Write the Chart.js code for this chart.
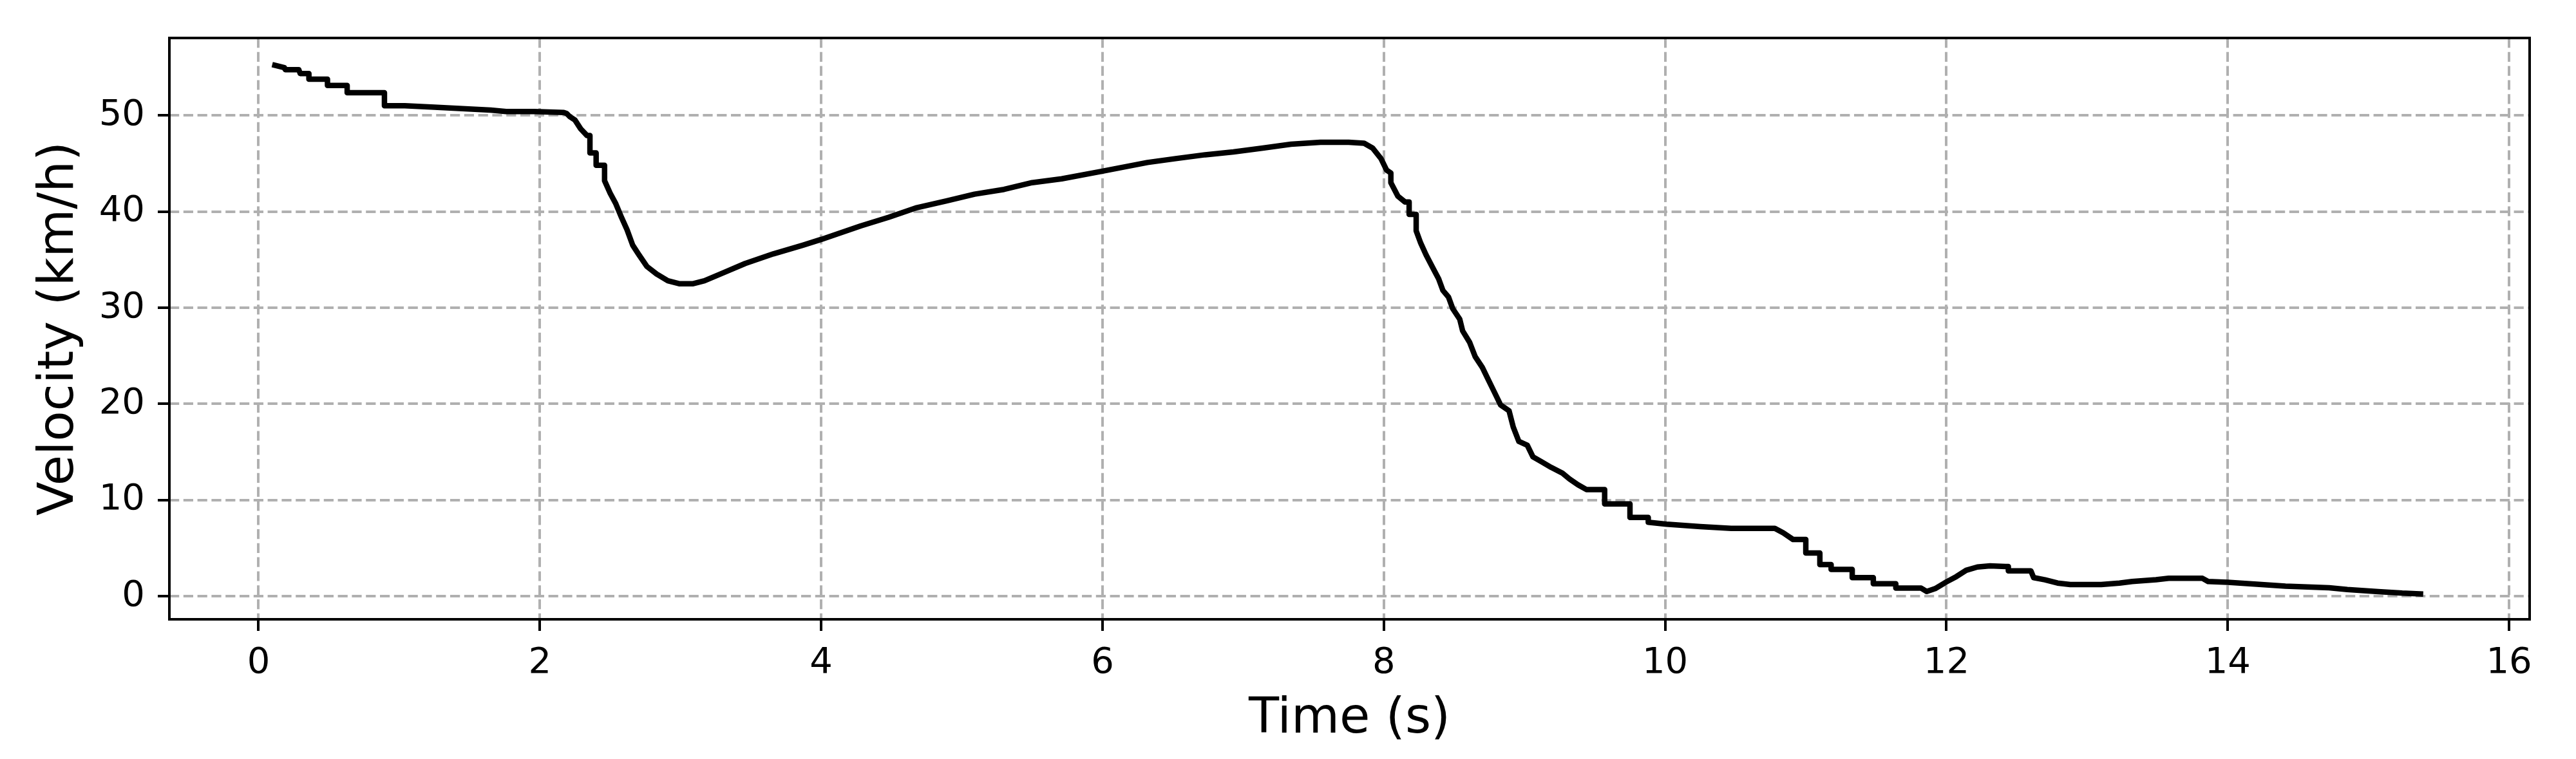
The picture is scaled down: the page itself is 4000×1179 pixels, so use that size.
<!DOCTYPE html>
<html>
<head>
<meta charset="utf-8">
<script src="https://cdn.jsdelivr.net/npm/chart.js@4.4.1/dist/chart.umd.min.js"></script>
<style>
  html, body { margin: 0; padding: 0; background: #fff; }
  canvas { display: block; }
</style>
</head>
<body>
<canvas id="chart" width="4000" height="1179"></canvas>
<script>
// time (s) and velocity (km/h); repeated times are the visible steps
const timeValues = [
  0.116, 0.184, 0.19, 0.286, 0.296, 0.358, 0.358, 0.49, 0.49, 0.63, 0.63, 0.895, 0.895,
  1.04, 1.25, 1.45, 1.65, 1.76, 1.96, 2.17, 2.19, 2.21, 2.25, 2.29, 2.335, 2.356, 2.356,
  2.40, 2.40, 2.46, 2.46, 2.50, 2.54, 2.58, 2.62, 2.66, 2.70, 2.76, 2.83, 2.91, 2.99,
  3.09, 3.17, 3.30, 3.46, 3.66, 3.87, 4.0, 4.28, 4.48, 4.68, 4.89, 5.09, 5.30, 5.50,
  5.71, 6.0, 6.32, 6.52, 6.73, 6.93, 7.14, 7.34, 7.55, 7.75, 7.86, 7.92, 7.98, 8.02,
  8.05, 8.05, 8.10, 8.15, 8.18, 8.18, 8.23, 8.23, 8.26, 8.30, 8.35, 8.39, 8.42, 8.46,
  8.49, 8.54, 8.56, 8.61, 8.65, 8.70, 8.74, 8.78, 8.83, 8.89, 8.92, 8.96, 9.02, 9.06,
  9.12, 9.19, 9.27, 9.32, 9.38, 9.44, 9.57, 9.57, 9.75, 9.75, 9.88, 9.88, 10.01, 10.25,
  10.47, 10.78, 10.84, 10.91, 11.0, 11.0, 11.1, 11.1, 11.18, 11.18, 11.33, 11.33, 11.48,
  11.48, 11.64, 11.64, 11.82, 11.86, 11.92, 12.0, 12.07, 12.14, 12.22, 12.31, 12.42,
  12.44, 12.44, 12.60, 12.62, 12.70, 12.79, 12.88, 13.1, 13.23, 13.32, 13.49, 13.58,
  13.82, 13.86, 14.0, 14.19, 14.41, 14.72, 14.85, 15.07, 15.24, 15.37
];
const velocityValues = [
  55.2, 54.95, 54.75, 54.75, 54.35, 54.35, 53.75, 53.75, 53.1, 53.1, 52.35, 52.35, 51.0,
  51.0, 50.85, 50.7, 50.55, 50.4, 50.4, 50.3, 50.2, 49.9, 49.5, 48.6, 47.9, 47.9, 46.1,
  46.1, 44.8, 44.8, 43.2, 41.9, 40.8, 39.4, 38.1, 36.5, 35.6, 34.3, 33.5, 32.8, 32.5,
  32.5, 32.8, 33.6, 34.6, 35.6, 36.5, 37.1, 38.5, 39.4, 40.4, 41.1, 41.8, 42.3, 43.0,
  43.4, 44.2, 45.1, 45.5, 45.9, 46.2, 46.6, 47.0, 47.2, 47.2, 47.1, 46.6, 45.5, 44.3,
  44.0, 43.0, 41.6, 41.0, 41.0, 39.7, 39.7, 38.0, 36.8, 35.5, 34.1, 33.0, 31.8, 31.1,
  29.9, 28.8, 27.6, 26.4, 24.9, 23.8, 22.6, 21.4, 19.9, 19.3, 17.6, 16.1, 15.7, 14.5,
  14.0, 13.4, 12.8, 12.2, 11.6, 11.1, 11.1, 9.6, 9.6, 8.2, 8.2, 7.7, 7.5, 7.25,
  7.07, 7.07, 6.6, 5.9, 5.9, 4.5, 4.5, 3.3, 3.3, 2.8, 2.8, 1.95, 1.95,
  1.3, 1.3, 0.85, 0.85, 0.5, 0.8, 1.5, 2.05, 2.7, 3.05, 3.17, 3.1,
  3.1, 2.65, 2.65, 1.94, 1.72, 1.38, 1.23, 1.23, 1.38, 1.54, 1.72, 1.87,
  1.87, 1.54, 1.45, 1.27, 1.05, 0.89, 0.71, 0.49, 0.33, 0.25
];
const xTicks = [0, 2, 4, 6, 8, 10, 12, 14, 16];
const yTicks = [0, 10, 20, 30, 40, 50];

const points = timeValues.map((t, i) => ({ x: t, y: velocityValues[i] }));

// black frame round the plot area, like the matplotlib spines
const frame = {
  id: "frame",
  afterDraw(chart) {
    const { ctx, chartArea: a } = chart;
    ctx.save();
    ctx.strokeStyle = "#000";
    ctx.lineWidth = 4;
    ctx.strokeRect(a.left, a.top, a.right - a.left, a.bottom - a.top);
    ctx.restore();
  },
};

const gridOpts = {
  color: "#b0b0b0",
  lineWidth: 4,
  tickColor: "#000",
  tickWidth: 4,
  tickLength: 18,
};

new Chart(document.getElementById("chart").getContext("2d"), {
  type: "line",
  data: {
    datasets: [
      {
        data: points,
        borderColor: "#000",
        borderWidth: 8.5,
        borderCapStyle: "square",
        borderJoinStyle: "round",
        pointRadius: 0,
        tension: 0,
        fill: false,
      },
    ],
  },
  options: {
    responsive: false,
    animation: false,
    layout: { padding: { top: 59, right: 72, left: 0, bottom: 0 } },
    plugins: { legend: { display: false }, tooltip: { enabled: false } },
    scales: {
      x: {
        type: "linear",
        min: -0.634,
        max: 16.146,
        afterBuildTicks: (s) => { s.ticks = xTicks.map((v) => ({ value: v })); },
        afterFit: (s) => {
          s.height = 217;
          s.paddingLeft = 0;
          s.paddingRight = 0;
        },
        grid: gridOpts,
        border: { display: false, dash: [15.2, 6.6] },
        ticks: {
          color: "#000",
          padding: 17,
          maxRotation: 0,
          font: { family: "DejaVu Sans", size: 56 },
        },
        title: {
          display: true,
          text: "Time (s)",
          color: "#000",
          padding: { top: 0, bottom: 15 },
          font: { family: "DejaVu Sans", size: 77 },
        },
      },
      y: {
        type: "linear",
        min: -2.39,
        max: 58.04,
        afterBuildTicks: (s) => { s.ticks = yTicks.map((v) => ({ value: v })); },
        afterFit: (s) => {
          s.width = 263;
          s.paddingTop = 0;
          s.paddingBottom = 0;
        },
        grid: gridOpts,
        border: { display: false, dash: [15.2, 6.6] },
        ticks: {
          color: "#000",
          padding: 20,
          font: { family: "DejaVu Sans", size: 56 },
        },
        title: {
          display: true,
          text: "Velocity (km/h)",
          color: "#000",
          padding: { top: 47, bottom: 0 },
          font: { family: "DejaVu Sans", size: 77 },
        },
      },
    },
  },
  plugins: [frame],
});
</script>
</body>
</html>
